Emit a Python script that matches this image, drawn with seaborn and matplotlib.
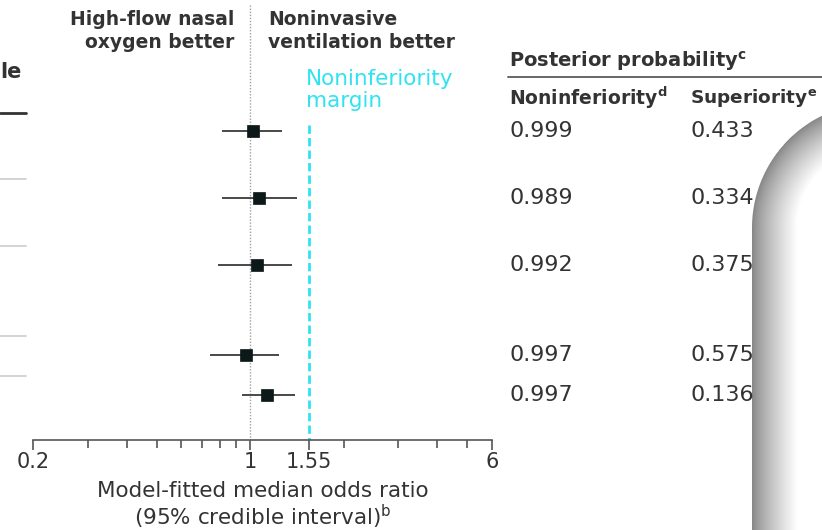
import numpy as np
import pandas as pd
import matplotlib
matplotlib.use("Agg")
import matplotlib.pyplot as plt
import seaborn as sns

sns.set_theme(style="white")
plt.rcParams['font.family'] = ['DejaVu Sans']

# ---- data ----
median_or = [1.02, 1.07, 1.05, 0.97, 1.13]
ci_low = [0.81, 0.81, 0.79, 0.74, 0.94]
ci_high = [1.27, 1.41, 1.36, 1.24, 1.39]
p_noninferiority = ["0.999", "0.989", "0.992", "0.997", "0.997"]
p_superiority = ["0.433", "0.334", "0.375", "0.575", "0.136"]
tick_values = [0.2, 1, 1.55, 6]
tick_labels = ["0.2", "1", "1.55", "6"]
margin = 1.55

# ---- layout (pixel rows) ----
W, H = 822, 530
row_y = [131, 198, 265, 355, 395]
sep_y = [179, 246, 336, 376]

df = pd.DataFrame({"or": median_or, "lo": ci_low, "hi": ci_high, "y": row_y})

fig = plt.figure(figsize=(W / 100, H / 100), dpi=100)

def fx(x):
    return x / W

def fy(y):
    return 1 - y / H

TXT = "#333333"
CYAN = "#2fe3f0"

ax = fig.add_axes([fx(33), fy(440), fx(492) - fx(33), fy(0) - fy(440)])
ax.set_xscale("log")
ax.set_xlim(0.2, 6)
ax.set_ylim(440, 0)
ax.patch.set_alpha(0)

# reference lines
ax.vlines(1, 5, 440, colors="#a0a0a0", linestyles=(0, (1, 1.2)), lw=1.0)
ax.vlines(margin, 125, 440, colors=CYAN, linestyles=(0, (3, 1.5)), lw=2.0)

# CIs and points
ax.hlines(df["y"], df["lo"], df["hi"], colors="#3a3a3a", lw=1.3, zorder=3)
sns.scatterplot(data=df, x="or", y="y", marker="s", s=80, color="#0d1818",
                edgecolor="#0d1818", linewidth=0.5, ax=ax, zorder=4, legend=False)

for s in ["top", "right", "left"]:
    ax.spines[s].set_visible(False)
ax.spines["bottom"].set_color("#555555")
ax.spines["bottom"].set_linewidth(1.2)
ax.set_yticks([])
ax.set_xticks(tick_values)
ax.set_xticklabels(tick_labels)
ax.set_xticks([0.3, 0.4, 0.5, 0.6, 0.7, 0.8, 0.9, 2, 3, 4, 5], minor=True)
ax.xaxis.set_minor_formatter(matplotlib.ticker.NullFormatter())
ax.tick_params(axis="x", which="major", direction="out", length=7, width=1.2,
               color="#555555", labelsize=15, labelcolor=TXT, pad=2, bottom=True)
ax.tick_params(axis="x", which="minor", direction="out", length=6, width=1.2,
               color="#555555", bottom=True)
ax.set_xlabel("Model-fitted median odds ratio\n(95% credible interval)$^{\\mathregular{b}}$",
              fontsize=15.5, color=TXT, labelpad=6, linespacing=1.1)
ax.set_ylabel("")

# headers
fig.text(fx(234), fy(31), "High-flow nasal\noxygen better", ha="right", va="center",
         fontsize=13.5, fontweight="bold", color=TXT, linespacing=1.3)
fig.text(fx(268), fy(31), "Noninvasive\nventilation better", ha="left", va="center",
         fontsize=13.5, fontweight="bold", color=TXT, linespacing=1.3)
fig.text(fx(306), fy(90), "Noninferiority\nmargin", ha="left", va="center",
         fontsize=15.5, color=CYAN, linespacing=1.15)
fig.text(fx(0), fy(72), "le", ha="left", va="center", fontsize=15,
         fontweight="bold", color=TXT)

# left separators
fig.add_artist(plt.Line2D([fx(0), fx(26)], [fy(113), fy(113)], color="#333333", lw=2))
for y in sep_y:
    fig.add_artist(plt.Line2D([fx(0), fx(26)], [fy(y), fy(y)], color="#cccccc", lw=1.2))

# table
fig.text(fx(509), fy(61), "Posterior probability$^{\\mathregular{c}}$", ha="left", va="center",
         fontsize=14, fontweight="bold", color=TXT)
fig.add_artist(plt.Line2D([fx(508), fx(822)], [fy(77), fy(77)], color="#666666", lw=1.4))
fig.text(fx(509), fy(98), "Noninferiority$^{\\mathregular{d}}$", ha="left", va="center",
         fontsize=13.5, fontweight="bold", color=TXT)
fig.text(fx(690), fy(98), "Superiority$^{\\mathregular{e}}$", ha="left", va="center",
         fontsize=13.3, fontweight="bold", color=TXT)
for y, a, b in zip(row_y, p_noninferiority, p_superiority):
    fig.text(fx(509), fy(y), a, ha="left", va="center", fontsize=16, color=TXT)
    fig.text(fx(690), fy(y), b, ha="left", va="center", fontsize=16, color=TXT)

# gray overlay shape with edge shading
ov = fig.add_axes([0, 0, 1, 1])
ov.set_xlim(0, W)
ov.set_ylim(H, 0)
ov.axis("off")
x0, ytop, r = 752, 103, 125
xs = np.arange(700, W + 1)
ys = np.arange(90, H + 1)
XX, YY = np.meshgrid(xs + 0.5, ys + 0.5)
cx, cy = x0 + r, ytop + r
d = np.where((XX < cx) & (YY < cy), r - np.hypot(XX - cx, YY - cy),
             np.where(YY < cy, YY - ytop, XX - x0))
shade = np.clip(d / 45.0, 0, 1)
val = 0.52 + 0.48 * shade ** 0.8
alpha = np.clip(d + 0.5, 0, 1)
img = np.dstack([val, val, val, alpha])
ov.imshow(img, extent=(700, W + 1, H + 1, 90), interpolation="bilinear", zorder=10)

fig.savefig("out.png", dpi=100)
